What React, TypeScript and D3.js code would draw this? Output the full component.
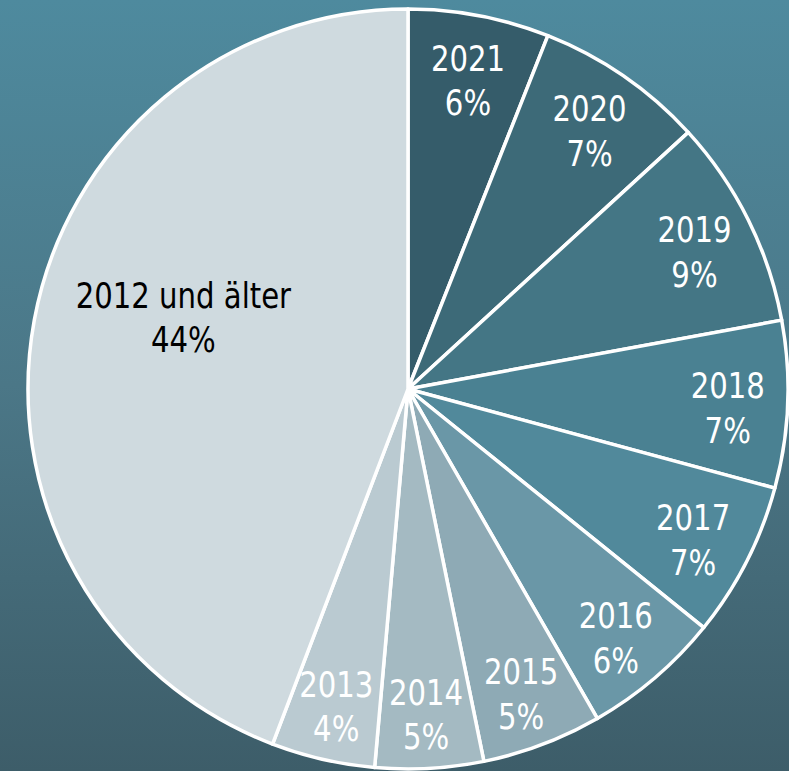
import React from "react";
import * as d3 from "d3";

const categories = ["2021", "2020", "2019", "2018", "2017", "2016", "2015", "2014", "2013", "2012 und älter"];
const shares = [6.0, 7.2, 8.9, 7.1, 6.6, 5.9, 5.1, 4.6, 4.4, 44.2];
const colors = ["#355c6a", "#3d6a78", "#447685", "#4a8192", "#51899b", "#6a97a7", "#8eaab5", "#a4bac2", "#bacad1", "#cfdadf"];
const textColors = ["#fff", "#fff", "#fff", "#fff", "#fff", "#fff", "#fff", "#fff", "#fff", "#000"];

const W = 789;
const H = 771;

export default function App() {
  const cx = 408;
  const cy = 389;
  const r = 380;
  const data = categories.map((c, i) => ({ c, v: shares[i], i }));
  const pie = d3.pie<any>().sort(null).value((d: any) => d.v);
  const arcs = pie(data);
  const arc = d3.arc<any>().innerRadius(0).outerRadius(r);
  const font = "'DejaVu Sans Condensed', 'DejaVu Sans', sans-serif";
  const fs = 36;
  const sx = 0.9;
  return (
    <svg width={W} height={H} style={{ position: "absolute", left: 0, top: 0 }}>
      <defs>
        <linearGradient id="bg" x1="0" y1="0" x2="0" y2="1">
          <stop offset="0" stopColor="#4e8a9e" />
          <stop offset="0.5" stopColor="#4b7787" />
          <stop offset="1" stopColor="#3d5d69" />
        </linearGradient>
      </defs>
      <rect x={0} y={0} width={W} height={H} fill="url(#bg)" />
      <g transform={`translate(${cx},${cy})`}>
        {arcs.map((a, i) => (
          <path key={i} d={arc(a) as string} fill={colors[i]} stroke="#fff" strokeWidth={3.5} strokeLinejoin="round" />
        ))}
        {arcs.map((a, i) => {
          const big = a.data.v > 30;
          const mid = (a.startAngle + a.endAngle) / 2 + (big ? 0.13 : 0);
          const lr = big ? 236 : 320;
          const x = lr * Math.sin(mid);
          const y = -lr * Math.cos(mid) + (big ? 0 : 5);
          return (
            <g key={"t" + i} transform={`translate(${x},${y}) scale(${sx},1)`}>
              <text x={0} y={0} textAnchor="middle" fill={textColors[i]} fontFamily={font} fontSize={fs}>
                <tspan x={0} dy="-0.25em">{a.data.c}</tspan>
                <tspan x={0} dy="1.24em">{Math.round(a.data.v) + "%"}</tspan>
              </text>
            </g>
          );
        })}
      </g>
    </svg>
  );
}
